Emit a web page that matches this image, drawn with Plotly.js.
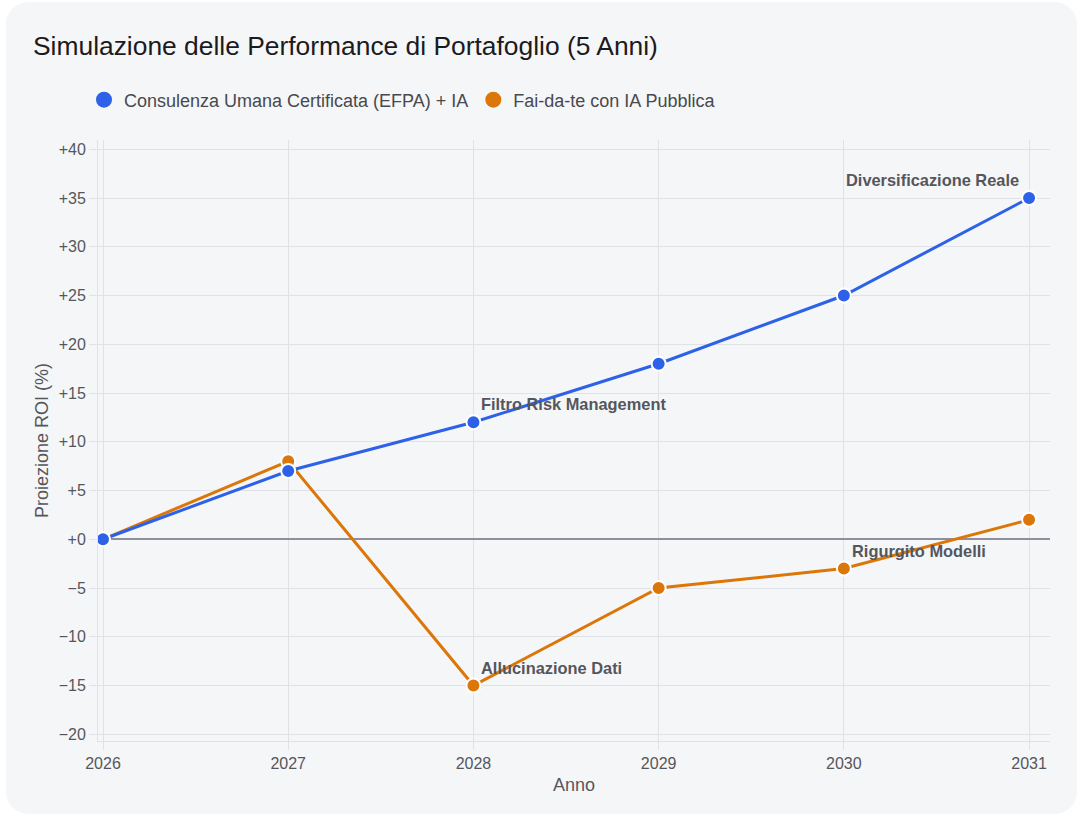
<!DOCTYPE html>
<html>
<head>
<meta charset="utf-8">
<script src="https://cdn.plot.ly/plotly-3.0.1.min.js"></script>
<style>
  html, body { margin: 0; padding: 0; background: #ffffff; }
  .card {
    position: absolute; left: 6px; top: 2px; width: 1071px; height: 812px;
    background: #f5f6f8; border-radius: 22px;
  }
  #chart { position: absolute; left: 0; top: 0; width: 1080px; height: 819px; }
</style>
</head>
<body>
<div class="card"></div>
<div id="chart"></div>
<script>
// Projection years and ROI (%) for the two portfolio strategies
const years = [2026, 2027, 2028, 2029, 2030, 2031];
const consulenzaROI = [0, 7, 12, 18, 25, 35];
const faiDaTeROI = [0, 8, -15, -5, -3, 2];

const seriesNames = ['Consulenza Umana Certificata (EFPA) + IA', 'Fai-da-te con IA Pubblica'];
const seriesColors = ['#2d62e8', '#dc7609'];

// Callout labels attached to single points: [series index, point index, text]
const callouts = [
  [0, 2, 'Filtro Risk Management'],
  [0, 5, 'Diversificazione Reale'],
  [1, 2, 'Allucinazione Dati'],
  [1, 4, 'Rigurgito Modelli']
];

const seriesValues = [consulenzaROI, faiDaTeROI];
const FONT = 'Liberation Sans, Arial, Helvetica, sans-serif';

function lineTrace(i) {
  return {
    x: years, y: seriesValues[i], type: 'scatter', mode: 'lines+markers',
    name: seriesNames[i], showlegend: false, hoverinfo: 'x+y',
    line: { color: seriesColors[i], width: 3 },
    marker: { color: seriesColors[i], size: 14, line: { color: '#ffffff', width: 2 } }
  };
}
function legendTrace(i) {
  return {
    x: [null], y: [null], type: 'scatter', mode: 'markers',
    name: seriesNames[i], showlegend: true,
    marker: { color: seriesColors[i], size: 18 }
  };
}

const traces = [legendTrace(0), legendTrace(1), lineTrace(1), lineTrace(0)];

const annotations = callouts.map(([s, p, text]) => {
  const last = p === years.length - 1;
  return {
    x: years[p], y: seriesValues[s][p], xref: 'x', yref: 'y',
    text: '<b>' + text + '</b>', showarrow: false,
    xanchor: last ? 'right' : 'left', yanchor: 'bottom',
    xshift: last ? -8 : 6, yshift: 7,
    font: { family: FONT, size: 16.4, color: '#55565c' }
  };
});

const layout = {
  width: 1080, height: 819,
  paper_bgcolor: 'rgba(0,0,0,0)', plot_bgcolor: 'rgba(0,0,0,0)',
  margin: { l: 98, r: 30, t: 140, b: 78, pad: 0 },
  font: { family: FONT, color: '#55565c' },
  title: {
    text: 'Simulazione delle Performance di Portafoglio (5 Anni)',
    xref: 'container', yref: 'container', x: 33 / 1080, xanchor: 'left',
    y: 1 - 46 / 819, yanchor: 'middle',
    font: { family: FONT, size: 26.4, color: '#1b1b1d' }
  },
  legend: {
    orientation: 'h', xref: 'container', yref: 'container',
    x: 84 / 1080, xanchor: 'left', y: 1 - 100 / 819, yanchor: 'middle',
    bgcolor: 'rgba(0,0,0,0)', font: { family: FONT, size: 18, color: '#48494e' }
  },
  xaxis: {
    range: [2025.973, 2031.113], tickmode: 'array', tickvals: years,
    ticktext: years.map(String),
    showgrid: true, gridcolor: '#e0e2e6', gridwidth: 1,
    showline: true, linecolor: '#e0e2e6', linewidth: 1,
    ticks: 'outside', ticklen: 8, tickcolor: '#e0e2e6', tickwidth: 1,
    zeroline: false,
    tickfont: { family: FONT, size: 16, color: '#55565c' },
    title: { text: 'Anno', font: { family: FONT, size: 18, color: '#55565c' }, standoff: 7 }
  },
  yaxis: {
    range: [-20.69, 40.95], dtick: 5, tick0: 0, tickformat: '+',
    showgrid: true, gridcolor: '#e0e2e6', gridwidth: 1,
    showline: true, linecolor: '#e0e2e6', linewidth: 1,
    ticks: 'outside', ticklen: 8, tickcolor: '#e0e2e6', tickwidth: 1,
    zeroline: true, zerolinecolor: '#8d909c', zerolinewidth: 1.5,
    tickfont: { family: FONT, size: 16, color: '#55565c' },
    title: { text: 'Proiezione ROI (%)', font: { family: FONT, size: 18, color: '#55565c' }, standoff: 5 }
  },
  annotations: annotations,
  hovermode: 'closest'
};

Plotly.newPlot('chart', traces, layout, { displayModeBar: false, staticPlot: false });
</script>
</body>
</html>
